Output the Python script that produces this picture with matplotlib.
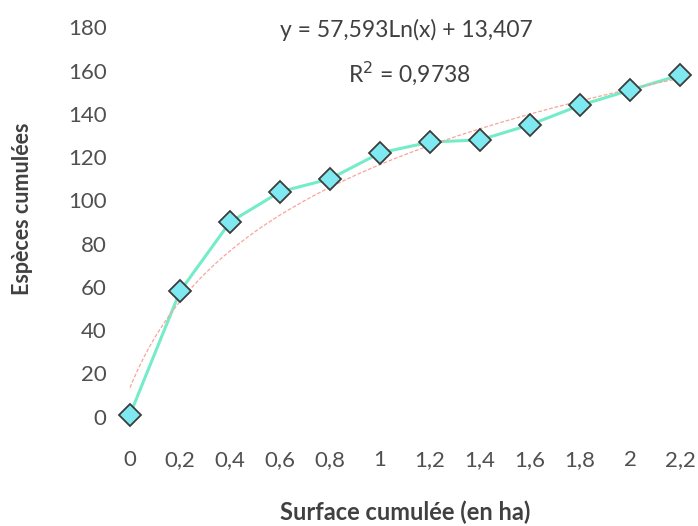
import matplotlib
matplotlib.use("Agg")
import matplotlib.pyplot as plt
import numpy as np

# surface cumulée (ha) and cumulated species count
surface_labels = ["0", "0,2", "0,4", "0,6", "0,8", "1", "1,2", "1,4", "1,6", "1,8", "2", "2,2"]
especes = [1, 58, 90, 104, 110, 122, 127, 128, 135, 144, 151, 158]

# logarithmic trendline as printed on the chart (Excel uses x = 1..n)
trend_a = 57.593
trend_b = 13.407
trend_r2 = 0.9738

plt.rcParams["font.family"] = ["Lato", "DejaVu Sans"]

fig = plt.figure(figsize=(6.98, 5.26), dpi=100)
ax = fig.add_axes([0.1648, 0.1873, 0.831, 0.781])

idx = np.arange(len(especes))

# trendline
xs = np.linspace(0, len(especes) - 1, 200)
ax.plot(xs, trend_a * np.log(xs + 1) + trend_b, color="#f6a69a", lw=0.9,
        ls=(0, (3, 1.5)), zorder=3)

# data series
ax.plot(idx, especes, color="#74ecc8", lw=2.2, zorder=2)
ax.plot(idx, especes, ls="none", marker="D", markersize=11,
        markerfacecolor="#7fe9f2", markeredgecolor="#3c3c3c",
        markeredgewidth=1.3, zorder=4, clip_on=False)

ax.set_xlim(-0.3, 11.3)
ax.set_ylim(-5, 185)
ax.set_xticks(idx)
ax.set_xticklabels(surface_labels)
ax.set_yticks(np.arange(0, 181, 20))

for s in ax.spines.values():
    s.set_visible(False)
ax.tick_params(axis="both", length=0, labelsize=16, labelcolor="#505050")
ax.tick_params(axis="x", pad=16)
ax.tick_params(axis="y", pad=6)

fig.text(0.58, 0.027, "Surface cumulée (en ha)", ha="center", va="center",
         fontsize=17, fontweight="bold", color="#404040")
fig.text(0.032, 0.604, "Espèces cumulées", ha="center", va="center",
         rotation=90, fontsize=15.5, fontweight="bold", color="#404040")

eq = "y = {:.3f}Ln(x) + {:.3f}".format(trend_a, trend_b).replace(".", ",")
r2 = "R$^2$ = {:.4f}".format(trend_r2).replace(".", ",")
fig.text(0.582, 0.943, eq, ha="center", va="center", fontsize=16.5, color="#404040")
fig.text(0.587, 0.861, r2, ha="center", va="center", fontsize=16.5, color="#404040")

fig.savefig("out.png", dpi=100)
